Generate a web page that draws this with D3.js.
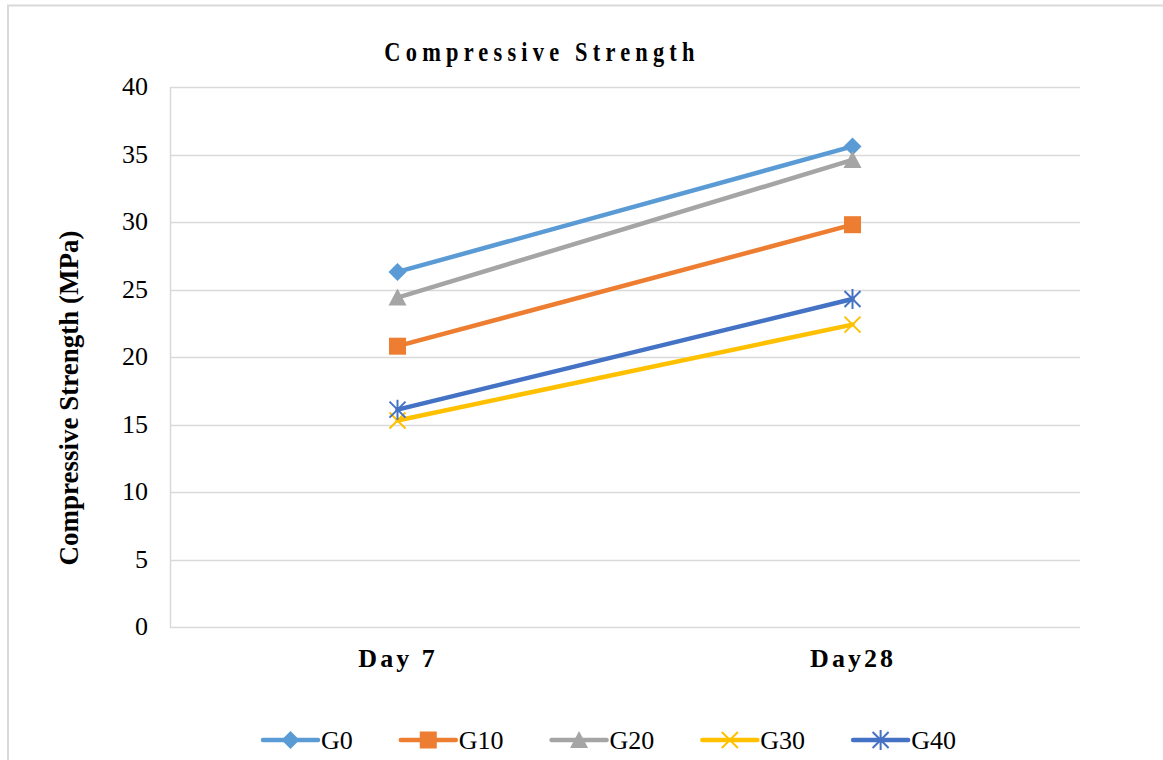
<!DOCTYPE html>
<html><head><meta charset="utf-8">
<script src="https://cdn.jsdelivr.net/npm/d3@7"></script>
<style>body{margin:0;background:#fff;} svg{display:block;} text{font-family:"Liberation Serif","Times New Roman",serif;}</style>
</head><body>
<script>
const categories = ["Day 7", "Day28"];
const seriesNames = ["G0", "G10", "G20", "G30", "G40"];
const G0 = [26.3, 35.6];
const G10 = [20.8, 29.8];
const G20 = [24.4, 34.6];
const G30 = [15.3, 22.4];
const G40 = [16.1, 24.3];
const yTicks = [0, 5, 10, 15, 20, 25, 30, 35, 40];
const colors = ["#5B9BD5", "#ED7D31", "#A5A5A5", "#FFC000", "#4472C4"];
const markers = ["diamond", "square", "triangle", "x", "star"];
const seriesData = [G0, G10, G20, G30, G40];

const W = 1163, H = 760;
const svg = d3.select("body").append("svg").attr("width", W).attr("height", H);
svg.append("rect").attr("x", 8).attr("y", 5.5).attr("width", W + 10).attr("height", H + 10)
  .attr("fill", "#fff").attr("stroke", "#D9D9D9").attr("stroke-width", 2);

const m = {left: 170, right: 1080, top: 87, bottom: 627};
const x = d3.scalePoint().domain(categories).range([m.left, m.right]).padding(0.5);
const y = d3.scaleLinear().domain([0, 40]).range([m.bottom, m.top]);

// gridlines
svg.append("g").selectAll("line").data(yTicks.filter(d => d > 0)).join("line")
  .attr("x1", m.left).attr("x2", m.right)
  .attr("y1", d => Math.round(y(d)) + 0.5).attr("y2", d => Math.round(y(d)) + 0.5)
  .attr("stroke", "#D9D9D9").attr("stroke-width", 1.5);
// axis lines
svg.append("line").attr("x1", m.left + 0.5).attr("x2", m.left + 0.5).attr("y1", m.top).attr("y2", m.bottom)
  .attr("stroke", "#D9D9D9").attr("stroke-width", 1.5);
svg.append("line").attr("x1", m.left).attr("x2", m.right).attr("y1", m.bottom + 0.5).attr("y2", m.bottom + 0.5)
  .attr("stroke", "#D9D9D9").attr("stroke-width", 1.5);

// y tick labels
const yAxis = d3.axisLeft(y).tickValues(yTicks).tickSize(0).tickPadding(22);
const ga = svg.append("g").attr("transform", `translate(${m.left},0)`).call(yAxis);
ga.select(".domain").remove();
ga.selectAll("text").attr("font-family", null).attr("font-size", 26).attr("fill", "#000").attr("dy", "0.3em");

// x labels
const xAxis = d3.axisBottom(x).tickSize(0).tickPadding(22);
const gx = svg.append("g").attr("transform", `translate(0,${m.bottom})`).call(xAxis);
gx.select(".domain").remove();
gx.selectAll("text").attr("font-family", null).attr("font-size", 26)
  .attr("font-weight", "bold").attr("letter-spacing", "3px").attr("fill", "#000");

// title (condensed, tall glyphs)
svg.append("text").attr("transform", "translate(542,61) scale(0.8,1)").attr("text-anchor", "middle")
  .attr("font-weight", "bold").attr("font-size", 28)
  .attr("letter-spacing", "6.5px").text("Compressive Strength");

// y axis title
svg.append("text").attr("transform", "translate(78,398) rotate(-90)").attr("text-anchor", "middle")
  .attr("font-weight", "bold").attr("font-size", 27)
  .text("Compressive Strength (MPa)");

function drawMarker(g, type, cx, cy, color) {
  const s = 9;
  if (type === "diamond") {
    g.append("path").attr("d", `M${cx},${cy - s}L${cx + s},${cy}L${cx},${cy + s}L${cx - s},${cy}Z`).attr("fill", color);
  } else if (type === "square") {
    g.append("rect").attr("x", cx - 8.5).attr("y", cy - 8.5).attr("width", 17).attr("height", 17).attr("fill", color);
  } else if (type === "triangle") {
    g.append("path").attr("d", `M${cx},${cy - 9}L${cx + 9},${cy + 8}L${cx - 9},${cy + 8}Z`).attr("fill", color);
  } else if (type === "x") {
    g.append("path").attr("d", `M${cx - 8},${cy - 8}L${cx + 8},${cy + 8}M${cx + 8},${cy - 8}L${cx - 8},${cy + 8}`)
      .attr("stroke", color).attr("stroke-width", 2);
  } else if (type === "star") {
    g.append("path").attr("d", `M${cx - 8},${cy - 8}L${cx + 8},${cy + 8}M${cx + 8},${cy - 8}L${cx - 8},${cy + 8}M${cx},${cy - 10}L${cx},${cy + 10}`)
      .attr("stroke", color).attr("stroke-width", 2);
  }
}

const line = d3.line().x((d, i) => x(categories[i])).y(d => y(d));
seriesData.forEach((vals, k) => {
  const g = svg.append("g");
  g.append("path").attr("d", line(vals)).attr("fill", "none").attr("stroke", colors[k])
    .attr("stroke-width", 4.5).attr("stroke-linecap", "round");
  vals.forEach((v, i) => drawMarker(g, markers[k], x(categories[i]), y(v), colors[k]));
});

// legend
let lx = 263;
const ly = 740;
seriesNames.forEach((name, k) => {
  const g = svg.append("g");
  g.append("line").attr("x1", lx).attr("x2", lx + 55).attr("y1", ly).attr("y2", ly)
    .attr("stroke", colors[k]).attr("stroke-width", 4.5).attr("stroke-linecap", "round");
  drawMarker(g, markers[k], lx + 27.5, ly, colors[k]);
  const t = g.append("text").attr("x", lx + 58).attr("y", ly + 9)
    .attr("font-size", 26).attr("fill", "#000").text(name);
  const tw = t.node().getComputedTextLength();
  lx += 58 + tw + 48;
});
</script>
</body></html>
